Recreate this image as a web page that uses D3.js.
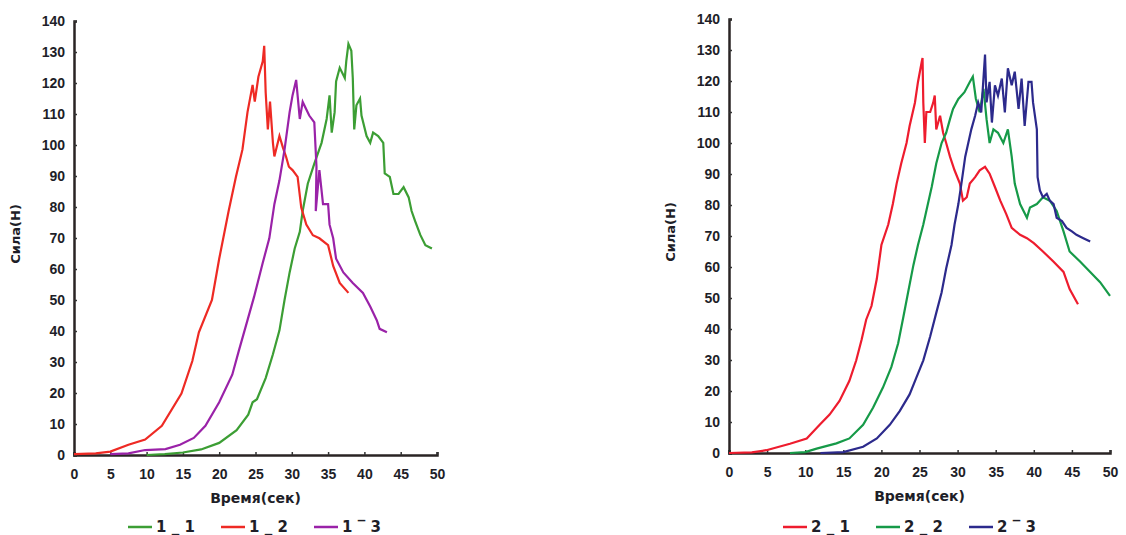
<!DOCTYPE html>
<html>
<head>
<meta charset="utf-8">
<script src="https://cdn.jsdelivr.net/npm/d3@7"></script>
<style>
  body { margin: 0; background: #fff; }
  svg { display: block; font-family: "DejaVu Sans", Arial, sans-serif; }
  .tick text, .lbl { font-weight: bold; fill: #1e1e28; }
</style>
</head>
<body>
<svg width="1126" height="535"></svg>
<script>
// ticks
const xTicks = [0, 5, 10, 15, 20, 25, 30, 35, 40, 45, 50]
const yTicks = [0, 10, 20, 30, 40, 50, 60, 70, 80, 90, 100, 110, 120, 130, 140]

// left chart, [time, force]
const series1_1 = [[10,0],[12.5,0.3],[15,0.8],[17.5,1.8],[20,3.9],[22.4,8],[24,13],[24.6,17],[25.2,18],[26.4,24.8],[27.4,32.5],
  [28.3,40.2],[29,50],[29.7,58.9],[30.4,66.6],[31.1,72],[31.5,78.7],[32.2,87.5],[33.1,94],[34.1,100.7],[34.8,108.4],
  [35.2,116],[35.5,104],[35.9,110.6],[36.1,120.5],[36.6,124.9],[37.3,121.6],[37.5,127],[37.8,132.6],[38.2,130.4],
  [38.4,121.6],[38.6,105],[38.9,112.8],[39.4,115],[39.6,109.5],[40.3,102.9],[40.8,100.7],[41.2,104],[41.9,102.9],
  [42.6,100.7],[42.8,90.8],[43.5,89.7],[44,84.2],[44.7,84.2],[45.4,86.4],[46.1,83.1],[46.5,78.7],[47,75.4],
  [47.7,71],[48.4,67.7],[49.3,66.6]]
const series1_2 = [[0,0.3],[3,0.5],[5,1.1],[7.5,3.3],[9.8,5],[12.1,9.4],[14.8,19.8],[16.3,30.3],[17.2,39.6],[19,50],
  [20,63.3],[21.3,78.7],[22.3,89.7],[23.2,98.5],[23.9,110.6],[24.6,119.4],[24.9,114],[25.4,122],[26,127],[26.2,132],
  [26.4,117],[26.7,105],[27,114],[27.4,100.7],[27.6,96.3],[28.3,102.9],[28.8,99],[29.2,96.3],[29.6,93],[30.1,91.9],
  [30.8,89.7],[31.3,79.8],[32,74.3],[32.9,70.9],[33.8,69.9],[35,67.7],[35.7,61],[36.6,55.5],[37.8,52.3]]
const series1_3 = [[5,0.3],[7.5,0.5],[9.8,1.6],[12.6,1.9],[14.6,3.3],[16.5,5.5],[18.1,9.4],[20,17],[21.8,25.9],
  [22.7,33.6],[23.9,43.5],[24.8,51],[26,62],[26.9,69.9],[27.6,80.9],[28.3,88.6],[29,98.5],[29.7,110.6],[30.1,116],
  [30.6,121],[31.1,108.4],[31.5,113.9],[32.4,109.5],[33.1,107.3],[33.4,93],[33.3,78.7],[33.8,91.9],[34.3,80.9],
  [35,80.9],[35.2,74.3],[35.7,69.9],[36.1,63.3],[37.1,58.9],[38.4,55.5],[39.8,52.3],[40.8,47.9],[41.7,43.5],
  [42.1,40.7],[43.1,39.6]]

// right chart, [time, force]
const series2_1 = [[0,0],[3,0.2],[4.9,0.9],[8,3],[10.2,4.7],[11.9,9.1],[13.2,12.4],[14.5,16.8],[15.8,23.3],[16.7,29.9],
  [17.4,36.5],[18,43],[18.7,47.4],[19.4,56.2],[20,67.1],[20.9,73.7],[21.5,80.3],[22,86.9],[22.6,93.4],[23.3,100],
  [23.7,105.5],[24.4,113],[24.8,119.7],[25.3,126.3],[25.4,127.4],[25.5,113],[25.7,100],[25.9,110],[26.4,110],
  [26.8,113],[27,115.3],[27.2,104.4],[27.7,108.8],[28.1,103.3],[28.5,100],[29,95.6],[29.6,91.2],[30.3,86.9],
  [30.7,81.4],[31.2,82.5],[31.6,86.9],[32.3,89],[32.9,91.2],[33.6,92.3],[34.2,90.1],[34.9,85.8],[35.6,81.4],
  [36.4,77],[37.1,72.6],[38.2,70.4],[39.1,69.3],[40,67.7],[41.2,65],[42.6,61.7],[43.9,58.4],[44.7,52.9],[45.8,48]]
const series2_2 = [[8,0],[10,0.3],[11.5,1.4],[14.1,3.1],[15.8,4.7],[17.6,9.1],[18.9,14.6],[20.2,21.1],[21.3,27.7],
  [22.2,35.4],[22.9,44.1],[23.5,51.8],[24.2,60.6],[24.8,67.1],[25.5,73.7],[26.1,80.3],[26.6,85.8],[27.2,93.4],
  [27.9,100],[28.5,103.3],[29,107.7],[29.4,111],[30.1,114.2],[30.9,116.4],[31.6,119.7],[32,121.4],[32.4,114.2],
  [32.9,109.9],[33.4,117.5],[33.8,107.7],[34.2,100],[34.7,104.4],[35.3,103.3],[36,100],[36.6,104.4],[37.1,95.6],
  [37.5,86.9],[38.2,80.3],[39.1,75.9],[39.5,79.2],[40.4,80.3],[41.2,82.5],[42.1,81.4],[43,78.1],[43.9,71.5],
  [44.7,65],[46.1,61.7],[47.4,58.4],[48.7,55.1],[50,50.7]]
const series2_3 = [[12,0],[15,0.3],[17.6,2],[19.4,4.7],[21.1,9.1],[22.4,13.5],[23.7,18.9],[24.6,24.4],[25.5,29.9],
  [26.4,37.6],[27.2,45.2],[27.9,51.8],[28.5,59.5],[29.2,67.1],[29.6,73.7],[30.1,80.3],[30.5,86.9],[31,95.6],
  [31.4,100],[31.8,104.4],[32.3,108.8],[32.7,113.1],[33.1,109.9],[33.6,128.5],[33.8,113.1],[34.2,119.7],
  [34.5,106.6],[34.9,118.6],[35.3,115.3],[35.8,120.8],[36.2,109.9],[36.6,124.1],[37.1,118.6],[37.5,123],
  [38,111],[38.4,120.8],[38.8,105.5],[39.3,119.7],[39.7,119.7],[39.9,113.1],[40.4,104.4],[40.5,89],[40.8,84.7],
  [41.2,82.5],[41.7,83.6],[42.1,81.4],[42.6,80.3],[43,75.9],[43.7,74.8],[44.3,72.6],[45,71.5],[45.6,70.4],
  [46.5,69.3],[47.4,68.2]]

const svg = d3.select("svg")

function drawChart(cfg){

    const xScale = d3.scaleLinear().domain([0, 50]).range([cfg.x0, cfg.x1])
    const yScale = d3.scaleLinear().domain([0, 140]).range([cfg.y0, cfg.y1])

    const g = svg.append("g")

    //Axes
    const bottomAxis = d3.axisBottom(xScale).tickValues(xTicks).tickSize(-3).tickPadding(14)
    const leftAxis = d3.axisLeft(yScale).tickValues(yTicks).tickSize(-3).tickPadding(9)

    const gx = g.append("g")
        .attr("transform", `translate(0, ${cfg.y0})`)
        .call(bottomAxis)
    const gy = g.append("g")
        .attr("transform", `translate(${cfg.x0}, 0)`)
        .call(leftAxis)

    for (const a of [gx, gy]) {
        a.select(".domain").attr("stroke", "#2a2424").attr("stroke-width", 2.5)
        a.selectAll(".tick line").attr("stroke", "#333").attr("stroke-width", 1.5)
        a.selectAll(".tick text").style("font-size", "14px")
    }

    //Lines
    const line = d3.line()
        .x(d => xScale(d[0]))
        .y(d => yScale(d[1]))

    cfg.series.forEach((s, i) => {
        g.append("path")
            .datum(s)
            .attr("fill", "none")
            .attr("stroke", cfg.colors[i])
            .attr("stroke-width", 2.2)
            .attr("stroke-linejoin", "miter")
            .attr("d", line)
    })

    //Axis titles
    g.append("text")
        .attr("class", "lbl")
        .attr("x", (cfg.x0 + cfg.x1) / 2)
        .attr("y", cfg.y0 + 48)
        .attr("text-anchor", "middle")
        .style("font-size", "14px")
        .text("Время(сек)")

    g.append("text")
        .attr("class", "lbl")
        .attr("transform", `translate(${cfg.x0 - 54}, ${yScale(70) - 4}) rotate(-90)`)
        .attr("text-anchor", "middle")
        .style("font-size", "13px")
        .text("Сила(Н)")

    //Legend
    const legend = g.append("g")
        .attr("transform", `translate(${cfg.legendX}, 527)`)

    cfg.names.forEach((n, i) => {
        const item = legend.append("g").attr("transform", `translate(${i * 93}, 0)`)
        item.append("line")
            .attr("x1", 0).attr("x2", 24)
            .attr("stroke", cfg.colors[i])
            .attr("stroke-width", 2.5)
        item.append("text")
            .attr("class", "lbl")
            .attr("x", 28)
            .attr("y", 5)
            .style("font-size", "15px")
            .text(n)
    })
}

drawChart({
    x0: 74, x1: 437, y0: 455, y1: 21,
    series: [series1_1, series1_2, series1_3],
    colors: ["#3c9e34", "#ee2a24", "#9a22a8"],
    names: ["1 _ 1", "1 _ 2", "1 \u203E 3"],
    legendX: 128
})

drawChart({
    x0: 729, x1: 1110, y0: 453, y1: 19,
    series: [series2_1, series2_2, series2_3],
    colors: ["#ee1c2e", "#169a48", "#2c2a8c"],
    names: ["2 _ 1", "2 _ 2", "2 \u203E 3"],
    legendX: 783
})
</script>
</body>
</html>
